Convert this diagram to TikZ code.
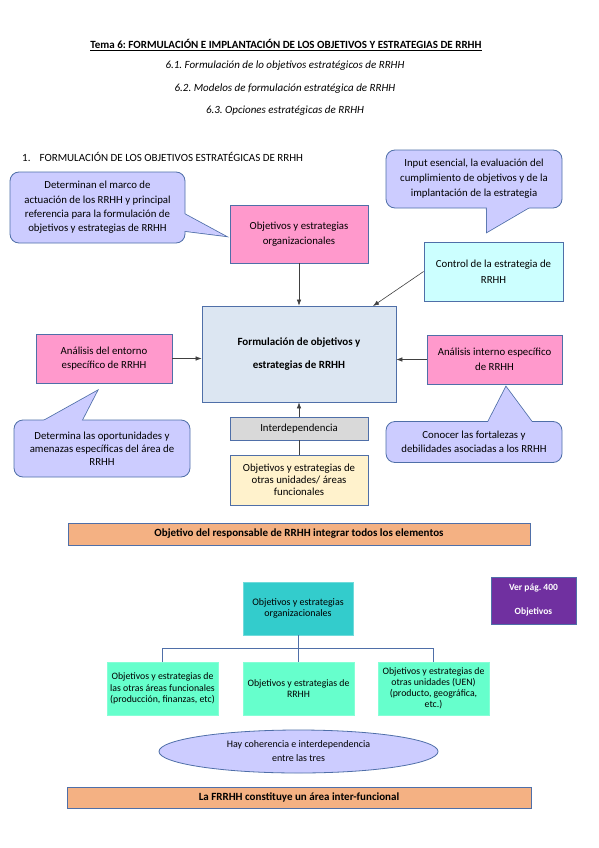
\documentclass[tikz,border=0pt]{standalone}
\usepackage{fontspec}
\setmainfont{Carlito}
\frenchspacing
\usetikzlibrary{arrows.meta,shapes.geometric}
\definecolor{cfill}{HTML}{CCCCFF}
\definecolor{bord}{RGB}{79,111,168}
\definecolor{pinkf}{HTML}{FF99CC}
\definecolor{ctrlf}{HTML}{CCFFFF}
\definecolor{centf}{HTML}{DCE6F2}
\definecolor{grayf}{HTML}{D9D9D9}
\definecolor{yellf}{HTML}{FFF2CC}
\definecolor{banf}{HTML}{F4B183}
\definecolor{tealf}{HTML}{33CCCC}
\definecolor{purpf}{HTML}{7030A0}
\definecolor{aquaf}{HTML}{66FFCC}
\definecolor{linec}{HTML}{404040}
\begin{document}
\begin{tikzpicture}[x=1pt,y=-1pt,
  box/.style={draw=bord, line width=0.8pt, align=center, inner sep=0pt},
  sz/.style 2 args={minimum width=#1, minimum height=#2},
  fs/.style 2 args={font=\fontsize{#1}{#2}\selectfont\frenchspacing},
  callbox/.style={box, fill=cfill, rounded corners=9pt},
  tailstroke/.style={draw=bord, line width=1.6pt, fill=cfill, line join=miter},
  tailfill/.style={fill=cfill},
  arr/.style={draw=linec, line width=0.6pt, -{Latex[length=6pt,width=4.5pt]}},
  ln/.style={draw=linec, line width=0.6pt},
  tree/.style={draw=bord, line width=1pt},
  plain/.style={inner sep=0pt, align=center}]
\fill[white] (0,0) rectangle (599,848);
\useasboundingbox (0,0) rectangle (599,848);

% headings
\node[plain, fs={11}{13}] (h0) at (286,45) {\underline{\textbf{Tema 6: FORMULACIÓN E IMPLANTACIÓN DE LOS OBJETIVOS Y ESTRATEGIAS DE RRHH}}};
\node[plain, fs={11}{13}] (h1) at (285,66) {\textit{6.1. Formulación de lo objetivos estratégicos de RRHH}};
\node[plain, fs={11}{13}] (h2) at (285,89) {\textit{6.2. Modelos de formulación estratégica de RRHH}};
\node[plain, fs={11}{13}] (h3) at (285,111) {\textit{6.3. Opciones estratégicas de RRHH}};
\node[plain, anchor=west, fs={11}{13}] (h4) at (22,157) {1.\hspace{9pt}FORMULACIÓN DE LOS OBJETIVOS ESTRATÉGICAS DE RRHH};

% callout 1 (top left)
\path[tailstroke] (177,210) -- (225,236) -- (177,230) -- cycle;
\node[callbox, sz={175}{71}, fs={10.8}{14.3}] (c1) at (97.5,207.5) {Determinan el marco de\\actuación de los RRHH y principal\\referencia para la formulación de\\objetivos y estrategias de RRHH};
\path[tailfill] (177,210) -- (225,236) -- (177,230) -- cycle;

% callout 2 (top right)
\path[tailstroke] (486.7,200) -- (487,232) -- (541.7,200) -- cycle;
\node[callbox, sz={176}{58}, fs={10.8}{15}] (c2) at (474,179) {Input esencial, la evaluación del\\cumplimiento de objetivos y de la\\implantación de la estrategia};
\path[tailfill] (486.7,200) -- (487,232) -- (541.7,200) -- cycle;

% callout 3 (bottom left)
\path[tailstroke] (30.7,428) -- (97,391) -- (77.9,428) -- cycle;
\node[callbox, sz={176}{57}, fs={10.8}{13}] (c3) at (102,448.5) {Determina las oportunidades y\\amenazas específicas del área de\\RRHH};
\path[tailfill] (30.7,428) -- (97,391) -- (77.9,428) -- cycle;

% callout 4 (bottom right)
\path[tailstroke] (483.9,430) -- (506,387) -- (537.9,430) -- cycle;
\node[callbox, sz={176}{41}, fs={10.8}{13.5}] (c4) at (474,442) {Conocer las fortalezas y\\debilidades asociadas a los RRHH};
\path[tailfill] (483.9,430) -- (506,387) -- (537.9,430) -- cycle;

% boxes upper diagram
\node[box, fill=pinkf, sz={138}{58}, fs={10.8}{15}] (org) at (299,234) {Objetivos y estrategias\\organizacionales};
\node[box, fill=ctrlf, sz={139}{59}, fs={10.8}{16}] (ctrl) at (493.5,271.5) {Control de la estrategia de\\RRHH};
\node[box, fill=centf, sz={194}{96}, fs={11}{23}] (cent) at (299,354) {\textbf{Formulación de objetivos y}\\\textbf{estrategias de RRHH}};
\node[box, fill=pinkf, sz={136}{49}, fs={10.8}{14}] (ent) at (104,358.5) {Análisis del entorno\\específico de RRHH};
\node[box, fill=pinkf, sz={135}{49}, fs={10.8}{15}] (int) at (494.5,359.5) {Análisis interno específico\\de RRHH};
\node[box, fill=grayf, sz={138}{23}, fs={10.8}{12}] (inter) at (299,428.5) {Interdependencia};
\node[box, fill=yellf, sz={138}{50}, fs={10.8}{12}] (yell) at (299,480) {Objetivos y estrategias de\\otras unidades/ áreas\\funcionales};
\node[box, fill=banf, sz={462}{22}, fs={11}{12}] (ban1) at (299,534) {\textbf{Objetivo del responsable de RRHH integrar todos los elementos}};

\coordinate (cin) at (373,306);
\draw[arr] (org.south) -- (cent.north);
\draw[arr] (ctrl.west) -- (cin);
\draw[arr] (ent.east) -- (ent.east -| cent.west);
\draw[arr] (int.west) -- (int.west -| cent.east);
\draw[arr] (inter.north) -- (cent.south);
\draw[ln] (inter.south) -- (yell.north);

% lower diagram
\node[box, draw=tealf!70!white, fill=tealf, sz={110}{53}, fs={10}{11.5}] (teal) at (298,608.5) {Objetivos y estrategias\\organizacionales};
\node[box, fill=purpf, sz={85}{47}, fs={9.5}{24}, text=white] (purp) at (533.5,600.5) {\textbf{Ver pág. 400}\\\textbf{Objetivos}};
\node[box, draw=aquaf!80!white, fill=aquaf, sz={111}{53}, fs={9.8}{11.5}] (k1) at (162.5,688.5) {Objetivos y estrategias de\\las otras áreas funcionales\\(producción, finanzas, etc)};
\node[box, draw=aquaf!80!white, fill=aquaf, sz={111}{53}, fs={9.8}{11.5}] (k2) at (298.5,688.5) {Objetivos y estrategias de\\RRHH};
\node[box, draw=aquaf!80!white, fill=aquaf, sz={111}{53}, fs={9.8}{11}] (k3) at (433.5,688.5) {Objetivos y estrategias de\\otras unidades (UEN)\\(producto, geográfica,\\etc.)};
\coordinate (bus) at (298,648);
\draw[tree] (teal.south) -- (bus);
\draw[tree] (bus) -| (k1.north);
\draw[tree] (bus) -| (k3.north);
\draw[tree] (bus) -- (bus |- k2.north);

\node[ellipse, draw=bord, line width=0.8pt, fill=cfill, inner sep=0pt, sz={279}{43}, align=center, fs={10}{14}] (ell) at (298.5,751.5) {Hay coherencia e interdependencia\\entre las tres};
\node[box, fill=banf, sz={464}{21}, fs={11}{12}] (ban2) at (299,797.5) {\textbf{La FRRHH constituye un área inter-funcional}};
\end{tikzpicture}
\end{document}
